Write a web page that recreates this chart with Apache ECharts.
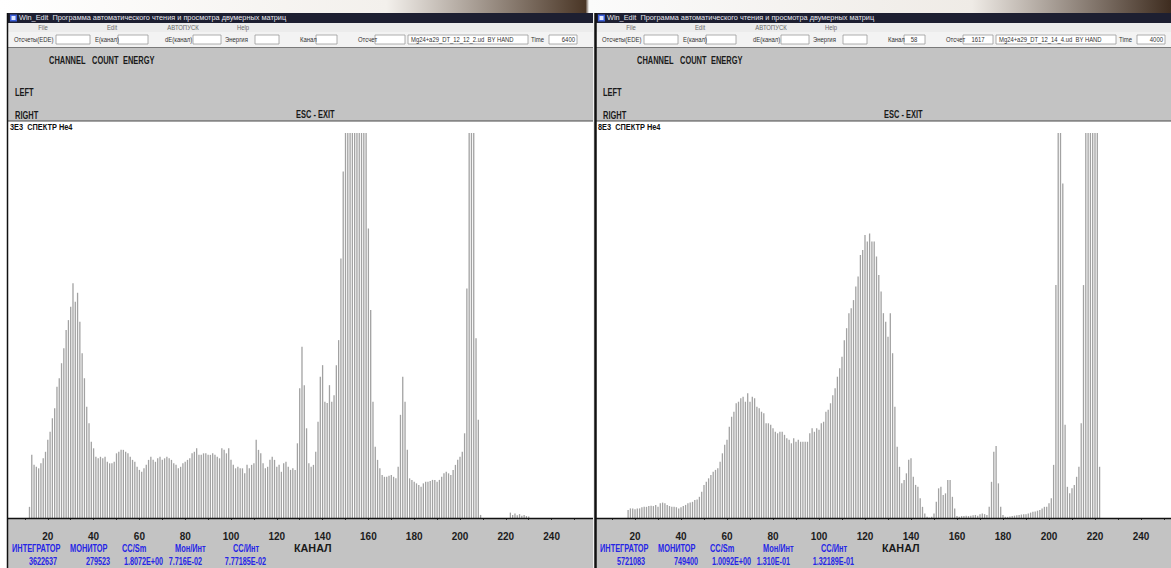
<!DOCTYPE html>
<html>
<head>
<meta charset="utf-8">
<script src="https://cdn.jsdelivr.net/npm/echarts@6/dist/echarts.min.js"></script>
<style>
  html, body { margin: 0; padding: 0; background: #ffffff; }
  #chart { width: 1171px; height: 568px; }
</style>
</head>
<body>
<div id="chart"></div>
<script>
// ---- spectrum data: counts per channel (percent of display full scale) ----
const tickLabels = [20, 40, 60, 80, 100, 120, 140, 160, 180, 200, 220, 240];

// run Mg24+a29_DT_12_12_2.ud, first channel = leftStart
const leftStart = 12;
const leftCounts = [
  2.9, 16.4, 13.8, 13.3, 12.9, 14.2, 15.5, 17.2, 20.3, 22.4, 25.9, 28.5, 34.1, 36.3, 40.2, 44.1,
  48.8, 51.4, 54.9, 61.0,
  56.2, 58.5, 51.0, 42.8, 36.3, 28.9, 24.6, 19.8, 18.1, 15.9, 15.5, 15.9, 15.5, 15.9, 14.6, 14.2,
  14.2, 14.6, 16.8, 17.2, 17.7, 17.7, 17.2, 16.8, 15.9, 15.1, 14.6, 13.3, 12.5, 12.0, 12.9, 13.8,
  15.1, 15.9, 15.1, 14.6, 15.5, 15.9, 15.1, 15.5, 15.9,
  15.5,
  15.1, 14.2, 13.8, 12.9, 13.3, 14.2, 14.6, 15.1, 15.5, 16.8, 17.2, 18.1, 16.4, 16.4, 16.8, 16.8,
  16.4, 16.4, 16.8, 16.4, 15.9, 15.5, 18.1, 17.7, 16.8, 18.1, 15.1, 13.8, 12.9, 13.3, 12.9, 12.9,
  11.6, 13.8, 12.9, 13.8, 14.2, 20.3, 17.7, 16.8, 14.2, 12.9, 13.3, 15.1, 15.9, 15.1, 13.3, 13.8,
  12.0, 14.2, 14.6, 13.3, 12.5, 12.9, 12.5,
  19.4, 33.7, 44.5, 34.5, 23.3, 14.2, 13.3, 13.8, 17.2, 25.0, 36.7, 39.7, 30.2, 29.9, 34.5, 30.2,
  31.9, 39.7, 46.2, 67.4, 90.0,
  100, 100, 100, 100, 100, 100, 100, 100, 100, 100,
  75.2, 54.0, 30.2, 18.5, 15.1, 12.9, 11.2, 10.7, 10.7, 11.0, 11.2, 10.7, 10.3, 13.3, 26.8, 36.7,
  30.2, 17.7, 10.3, 9.9, 9.4, 9.0, 8.6, 8.1, 9.0, 9.4, 9.4, 9.6, 9.9, 9.9, 9.4, 9.9,
  10.7, 11.6, 12.0, 11.6, 11.2, 12.5, 13.8, 15.1, 15.9, 17.2, 22.0, 59.6,
  100, 100, 100, 46.7, 25.5, 0.8,
  0, 0, 0, 0, 0, 0, 0, 0, 0, 0, 0, 0,
  1.4, 0.8, 1.2, 0.7, 1.0, 0.6, 0.8, 0.5, 0.4
];

// run Mg24+a29_DT_12_14_4.ud, first channel = rightStart
const rightStart = 17;
const rightCounts = [
  2.1, 2.5, 2.5, 2.3, 2.5, 2.5, 2.8, 2.9, 2.9, 3.1, 3.2, 3.1, 3.4, 2.9, 3.8, 4.0,
  3.8, 3.4, 3.1, 2.9, 2.9, 2.8, 2.5, 2.8, 3.1, 3.4, 3.8, 4.0, 4.2, 4.7, 4.8, 5.5,
  6.8, 8.6, 9.4, 10.3, 11.2, 12.0, 12.5, 12.9, 14.6, 16.8, 19.0, 20.3, 23.7, 26.3, 27.6, 29.8,
  30.2, 31.1, 31.5, 30.2, 32.4, 30.2, 31.5, 31.1, 28.9, 28.5, 27.6, 27.2, 24.6, 24.6, 24.2, 23.3,
  22.4, 22.0, 22.4, 22.4, 21.6, 20.7, 20.3, 19.4, 20.7, 19.8, 20.3, 19.8, 19.8, 19.8, 19.8, 22.0,
  23.3, 22.4, 23.3, 22.9, 24.6, 25.0, 27.6, 28.1, 29.8, 31.9, 33.7, 36.7, 38.9, 41.9, 46.2, 49.3,
  53.2, 54.5, 56.6, 60.1, 62.7, 68.3, 69.6, 73.5, 71.8,
  73.9, 71.8, 71.8, 67.9, 63.1, 58.8, 53.2, 51.0, 47.1, 53.2, 42.8, 28.9, 18.5, 13.3, 9.0, 9.9,
  11.6, 15.1, 15.5, 10.7, 8.6, 8.1, 5.1, 2.9, 1.2, 0.3, 0.1, 0.3, 1.2, 4.2, 7.7, 8.1,
  6.0, 6.4, 9.9, 9.9, 5.5, 2.5, 0.5, 0.3, 0.5, 0.5, 0.6, 0.5, 0.6, 0.7, 0.8, 0.6,
  1.0, 1.2, 1.0, 0.8, 2.9, 9.4, 17.2, 18.7, 9.0, 2.9, 0.8, 0.3, 0.3, 0.4, 0.5, 0.6,
  0.7, 0.8, 0.9, 1.0, 1.0, 1.2, 1.4, 1.6, 1.7, 1.9, 2.1, 2.5, 2.9, 2.9, 3.8, 5.1,
  13.8, 60.5, 100, 100, 86.9, 24.2, 8.1, 6.4, 7.7, 8.6, 10.7, 13.3, 24.6, 60.5,
  100, 100, 100, 100, 100, 100, 13.3
];

// ---- text shown in the two program windows ----
const titleText = 'Win_Edit  Программа автоматического чтения и просмотра двумерных матриц';
const menuItems = ['File', 'Edit', 'АВТОПУСК', 'Help'];
const infoNames = ['ИНТЕГРАТОР', 'МОНИТОР', 'CC/Sm', 'Мон/Инт', 'CC/Инт'];
const leftInfo = ['3622637', '279523', '1.8072E+00', '7.716E-02', '7.77185E-02'];
const rightInfo = ['5721083', '749400', '1.0092E+00', '1.310E-01', '1.32189E-01'];
const leftFile = 'Mg24+a29_DT_12_12_2.ud  BY HAND';
const rightFile = 'Mg24+a29_DT_12_14_4.ud  BY HAND';

const SANS = "'Liberation Sans','DejaVu Sans',sans-serif";

function windowChrome(ox, right, cfg) {
  const els = [];
  const rect = (x, y, w, h, fill, stroke, z) => els.push({
    type: 'rect', silent: true, z: z || 0,
    shape: { x: x, y: y, width: w, height: h },
    style: stroke ? { fill: fill, stroke: stroke, lineWidth: 0.8 } : { fill: fill }
  });
  const line = (x1, y1, x2, y2, stroke, w, z) => els.push({
    type: 'line', silent: true, z: z || 8,
    shape: { x1: x1, y1: y1, x2: x2, y2: y2 },
    style: { stroke: stroke, lineWidth: w }
  });
  // condensed text: horizontally squeezed about its anchor point
  const text = (x, y, s, font, fill, align, sx) => els.push({
    type: 'text', silent: true, z: 10, x: x, y: y, scaleX: sx || 1,
    style: { text: s, font: font, fill: fill, textAlign: align || 'left', textVerticalAlign: 'middle', align: align || 'left', verticalAlign: 'middle' }
  });
  const L = ox + 7;
  const W = right - L;
  const small = '7px ' + SANS;
  const panelFont = 'bold 11px ' + SANS;
  const infoFont = 'bold 10px ' + SANS;

  // title bar + icon
  rect(L, 13, W, 10, '#1d1f31');
  rect(L + 3, 14.5, 7, 7, '#3c5fd8');
  rect(L + 4.5, 16, 4, 4, '#dfe6ff');
  text(L + 12, 18.5, titleText, small, '#e6e6ee', 'left', 1.05);

  // menu bar
  rect(L, 23, W, 9, '#ececec');
  const menuX = [43, 112, 183, 243];
  menuItems.forEach((m, i) => text(ox + menuX[i], 27.5, m, small, '#6a6a6a', 'center', 0.85));

  // tool bar with fields
  rect(L, 32, W, 15, '#f3f3f3');
  const fields = [
    ['Отсчеты(EDE)', 14, 56, 34], ['E(канал)', 95, 118, 30], ['dE(канал)', 165, 193, 28],
    ['Энергия', 225, 255, 24], ['Канал', 300, 316, 21], ['Отсчет', 358, 375, 30]
  ];
  fields.forEach(f => {
    text(ox + f[1], 39.5, f[0], small, '#333', 'left', 0.85);
    rect(ox + f[2], 35, f[3], 9, '#ffffff', '#9a9a9a');
  });
  if (cfg.channel) text(ox + 316 + 10, 39.5, cfg.channel, small, '#333', 'center', 0.85);
  if (cfg.count) text(ox + 375 + 15, 39.5, cfg.count, small, '#333', 'center', 0.85);
  rect(ox + 408, 35, 120, 9, '#ffffff', '#9a9a9a');
  text(ox + 411, 39.5, cfg.file, small, '#333', 'left', 0.84);
  text(ox + 531, 39.5, 'Time', small, '#333', 'left', 0.85);
  rect(ox + 549, 35, 28, 9, '#ffffff', '#9a9a9a');
  text(ox + 575, 39.5, cfg.time, small, '#333', 'right', 0.85);
  line(L, 47.5, right, 47.5, '#7a7a7a', 1, 1);

  // grey control panel
  rect(L, 48, W, 73, '#c3c3c3');
  text(ox + 49, 60, 'CHANNEL', panelFont, '#1a1a1a', 'left', 0.68);
  text(ox + 92, 60, 'COUNT', panelFont, '#1a1a1a', 'left', 0.68);
  text(ox + 123, 60, 'ENERGY', panelFont, '#1a1a1a', 'left', 0.68);
  text(ox + 15, 92, 'LEFT', panelFont, '#1a1a1a', 'left', 0.68);
  text(ox + 15, 115, 'RIGHT', panelFont, '#1a1a1a', 'left', 0.68);
  text(ox + 296, 114, 'ESC - EXIT', panelFont, '#1a1a1a', 'left', 0.68);

  // white plot field
  rect(L, 121, W, 397, '#ffffff');
  line(L, 121, right, 121, '#4a4a4a', 1.2, 1);
  text(ox + 10, 127, cfg.plotTitle, 'bold 9px ' + SANS, '#111', 'left', 0.82);

  // bottom panel
  rect(L, 518.5, W, 50, '#c3c3c3');
  line(L, 518.5, right, 518.5, '#111', 1.5, 8);
  const nameX = [12, 70, 122, 175, 233];
  const valEnd = [57, 110, 163, 202, 266];
  infoNames.forEach((n, i) => text(ox + nameX[i], 548.5, n, infoFont, '#2626e6', 'left', 0.74));
  cfg.info.forEach((v, i) => text(ox + valEnd[i], 561.5, v, infoFont, '#2626e6', 'right', 0.72));
  text(ox + 294, 548.5, 'КАНАЛ', infoFont, '#1a1a1a', 'left', 1.08);

  // window frame
  line(L + 0.5, 13, L + 0.5, 568, '#111', cfg.border, 9);
  return els;
}

const graphics = [
  {
    type: 'rect', silent: true, z: 0,
    shape: { x: 0, y: 0, width: 1171, height: 13 },
    style: {
      fill: {
        type: 'linear', x: 0, y: 0, x2: 1, y2: 0,
        colorStops: [
          { offset: 0, color: '#ffffff' }, { offset: 0.33, color: '#f3f0ec' },
          { offset: 0.5, color: '#4a3626' }, { offset: 0.503, color: '#fbfbfb' },
          { offset: 0.83, color: '#efebe6' }, { offset: 1, color: '#3e2c1f' }
        ]
      }
    }
  },
  { type: 'rect', silent: true, z: 0, shape: { x: 593, y: 13, width: 3, height: 555 }, style: { fill: '#f0f0f0' } }
].concat(
  windowChrome(0, 593, { file: leftFile, time: '6400', info: leftInfo, plotTitle: '3E3  СПЕКТР He4', border: 1.5 }),
  windowChrome(588, 1171, { file: rightFile, time: '4000', info: rightInfo, plotTitle: '8E3  СПЕКТР He4', border: 2.5, channel: '58', count: '1617' })
);

function axisFor(grid, max) {
  return {
    gridIndex: grid, type: 'value', min: 0, max: max, interval: 10,
    axisLine: { show: false },
    splitLine: { show: false },
    axisTick: {
      show: true, length: 2, inside: false,
      customValues: Array.from({ length: 25 }, (_, i) => (i + 1) * 10),
      lineStyle: { color: '#333', width: 1 }
    },
    axisLabel: {
      show: true, margin: 13,
      customValues: tickLabels,
      formatter: v => (tickLabels.indexOf(v) >= 0 ? String(v) : ''),
      color: '#1c1c1c', fontFamily: "'Liberation Sans Narrow','Liberation Sans',sans-serif", fontWeight: 'bold', fontSize: 10
    }
  };
}

function barSeries(idx, start, counts) {
  return {
    type: 'bar', xAxisIndex: idx, yAxisIndex: idx, z: 5,
    barWidth: 1.3, clip: true, silent: true, animation: false,
    itemStyle: { color: '#a2a2a2' },
    data: counts.map((v, i) => [start + i, v])
  };
}

const chart = echarts.init(document.getElementById('chart'), null, { renderer: 'svg', width: 1171, height: 568 });
chart.setOption({
  animation: false,
  backgroundColor: '#ffffff',
  graphic: { elements: graphics },
  grid: [
    { left: 2, top: 133, width: 256 * 2.29, height: 385 },
    { left: 589, top: 133, width: 252 * 2.3, height: 385 }
  ],
  xAxis: [axisFor(0, 256), axisFor(1, 252)],
  yAxis: [
    { gridIndex: 0, type: 'value', min: 0, max: 100, show: false },
    { gridIndex: 1, type: 'value', min: 0, max: 100, show: false }
  ],
  series: [barSeries(0, leftStart, leftCounts), barSeries(1, rightStart, rightCounts)]
});
</script>
</body>
</html>
